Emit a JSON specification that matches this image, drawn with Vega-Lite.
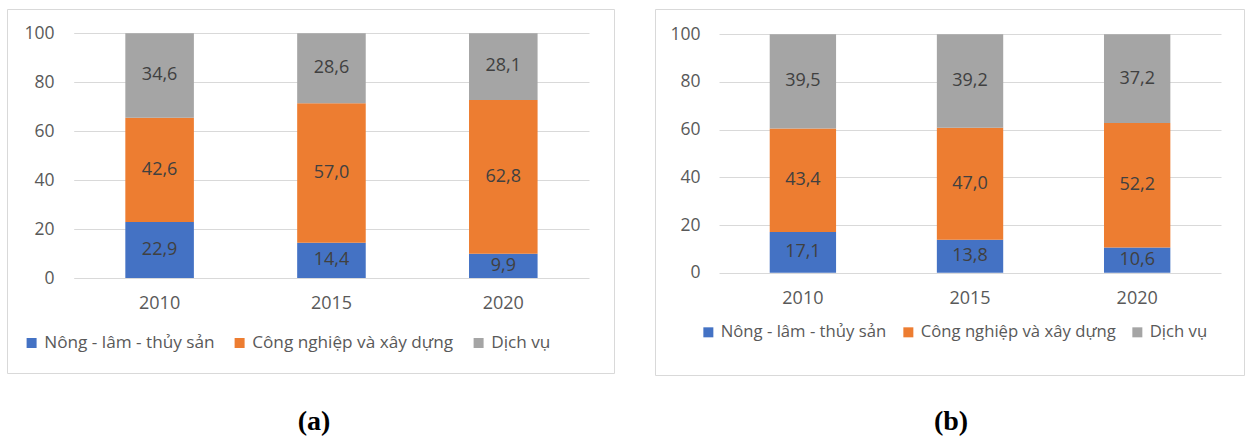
{
  "$schema": "https://vega.github.io/schema/vega-lite/v6.json",
  "background": "white",
  "padding": {"left": 6, "top": 8, "right": 0, "bottom": 0},
  "datasets": {
    "a": [
      {"year": "2010", "sector": "Nông - lâm - thủy sản", "rank": 1, "value": 22.9},
      {"year": "2010", "sector": "Công nghiệp và xây dựng", "rank": 2, "value": 42.6},
      {"year": "2010", "sector": "Dịch vụ", "rank": 3, "value": 34.6},
      {"year": "2015", "sector": "Nông - lâm - thủy sản", "rank": 1, "value": 14.4},
      {"year": "2015", "sector": "Công nghiệp và xây dựng", "rank": 2, "value": 57.0},
      {"year": "2015", "sector": "Dịch vụ", "rank": 3, "value": 28.6},
      {"year": "2020", "sector": "Nông - lâm - thủy sản", "rank": 1, "value": 9.9},
      {"year": "2020", "sector": "Công nghiệp và xây dựng", "rank": 2, "value": 62.8},
      {"year": "2020", "sector": "Dịch vụ", "rank": 3, "value": 28.1}
    ],
    "b": [
      {"year": "2010", "sector": "Nông - lâm - thủy sản", "rank": 1, "value": 17.1},
      {"year": "2010", "sector": "Công nghiệp và xây dựng", "rank": 2, "value": 43.4},
      {"year": "2010", "sector": "Dịch vụ", "rank": 3, "value": 39.5},
      {"year": "2015", "sector": "Nông - lâm - thủy sản", "rank": 1, "value": 13.8},
      {"year": "2015", "sector": "Công nghiệp và xây dựng", "rank": 2, "value": 47.0},
      {"year": "2015", "sector": "Dịch vụ", "rank": 3, "value": 39.2},
      {"year": "2020", "sector": "Nông - lâm - thủy sản", "rank": 1, "value": 10.6},
      {"year": "2020", "sector": "Công nghiệp và xây dựng", "rank": 2, "value": 52.2},
      {"year": "2020", "sector": "Dịch vụ", "rank": 3, "value": 37.2}
    ]
  },
  "spacing": 39,
  "resolve": {
    "scale": {"x": "independent", "y": "independent", "color": "independent"},
    "axis": {"x": "independent", "y": "independent"},
    "legend": {"color": "independent"}
  },
  "hconcat": [
    {
      "width": 607,
      "height": 364,
      "data": {"name": "a"},
      "title": {"text": "(a)", "orient": "bottom", "anchor": "middle", "offset": 35, "dx": 3.5, "font": "Liberation Serif", "fontSize": 28, "fontWeight": "bold", "color": "#000000"},
      "transform": [
        {"stack": "value", "groupby": ["year"], "sort": [{"field": "rank", "order": "ascending"}], "as": ["v0", "v1"]}
      ],
      "layer": [
        {
          "mark": {"type": "bar"},
          "encoding": {
            "x": {
              "field": "year", "type": "nominal", "sort": null,
              "scale": {"paddingInner": 0.601, "paddingOuter": 0.5666, "align": 0.6076},
              "axis": {"orient": "bottom", "offset": -80.1, "domain": false, "ticks": false, "tickSize": 0, "labelPadding": 2, "labelAngle": 0, "labelFont": "Open Sans", "labelFontSize": 18, "labelColor": "#595959", "title": null}
            },
            "y": {
              "field": "v1", "type": "quantitative", "title": null,
              "scale": {"domain": [0, 100], "range": [269, 24.3], "clamp": true, "nice": false, "zero": false},
              "axis": {"orient": "left", "offset": -582, "values": [0, 20, 40, 60, 80, 100], "domain": false, "grid": false, "ticks": true, "tickSize": 515.3, "tickColor": "#d9d9d9", "tickWidth": 1, "labelPadding": 19.7, "labelFont": "Open Sans", "labelFontSize": 17.5, "labelColor": "#595959", "title": null}
            },
            "y2": {"field": "v0"},
            "color": {
              "field": "sector", "type": "nominal",
              "scale": {"domain": ["Nông - lâm - thủy sản", "Công nghiệp và xây dựng", "Dịch vụ"], "range": ["#4472C4", "#ED7D31", "#A5A5A5"]},
              "legend": {"orient": "none", "legendX": 16, "legendY": 325.3, "direction": "horizontal", "columns": 3, "title": null, "symbolType": "square", "symbolSize": 100, "symbolStrokeWidth": 0, "labelFont": "Open Sans", "labelFontSize": 17.2, "labelColor": "#595959", "labelOffset": 4, "columnPadding": 16, "labelLimit": 400, "padding": 0}
            }
          }
        },
        {
          "transform": [{"fold": ["v0", "v1"], "as": ["edge", "pos"]}],
          "mark": {"type": "text", "font": "Open Sans", "fontSize": 18, "color": "#404040", "baseline": "middle", "align": "center"},
          "encoding": {
            "x": {"field": "year", "type": "nominal", "sort": null},
            "y": {"field": "pos", "type": "quantitative", "aggregate": "mean", "title": null},
            "detail": {"field": "sector", "type": "nominal"},
            "text": {"field": "value", "type": "quantitative", "aggregate": "max", "format": ".1f"}
          }
        }
      ]
    },
    {
      "width": 589,
      "height": 366,
      "data": {"name": "b"},
      "title": {"text": "(b)", "orient": "bottom", "anchor": "middle", "offset": 33, "dx": 1.5, "font": "Liberation Serif", "fontSize": 28, "fontWeight": "bold", "color": "#000000"},
      "transform": [
        {"stack": "value", "groupby": ["year"], "sort": [{"field": "rank", "order": "ascending"}], "as": ["v0", "v1"]}
      ],
      "layer": [
        {
          "mark": {"type": "bar"},
          "encoding": {
            "x": {
              "field": "year", "type": "nominal", "sort": null,
              "scale": {"paddingInner": 0.603, "paddingOuter": 0.5635, "align": 0.609},
              "axis": {"orient": "bottom", "offset": -87.1, "domain": false, "ticks": false, "tickSize": 0, "labelPadding": 2, "labelAngle": 0, "labelFont": "Open Sans", "labelFontSize": 18, "labelColor": "#595959", "title": null}
            },
            "y": {
              "field": "v1", "type": "quantitative", "title": null,
              "scale": {"domain": [0, 100], "range": [263.7, 25.3], "clamp": true, "nice": false, "zero": false},
              "axis": {"orient": "left", "offset": -566, "values": [0, 20, 40, 60, 80, 100], "domain": false, "grid": false, "ticks": true, "tickSize": 502, "tickColor": "#d9d9d9", "tickWidth": 1, "labelPadding": 19, "labelFont": "Open Sans", "labelFontSize": 17.5, "labelColor": "#595959", "title": null}
            },
            "y2": {"field": "v0"},
            "color": {
              "field": "sector", "type": "nominal",
              "scale": {"domain": ["Nông - lâm - thủy sản", "Công nghiệp và xây dựng", "Dịch vụ"], "range": ["#4472C4", "#ED7D31", "#A5A5A5"]},
              "legend": {"orient": "none", "legendX": 45, "legendY": 314.5, "direction": "horizontal", "columns": 3, "title": null, "symbolType": "square", "symbolSize": 100, "symbolStrokeWidth": 0, "labelFont": "Open Sans", "labelFontSize": 16.7, "labelColor": "#595959", "labelOffset": 4, "columnPadding": 13, "labelLimit": 400, "padding": 0}
            }
          }
        },
        {
          "transform": [{"fold": ["v0", "v1"], "as": ["edge", "pos"]}],
          "mark": {"type": "text", "font": "Open Sans", "fontSize": 18, "color": "#404040", "baseline": "middle", "align": "center"},
          "encoding": {
            "x": {"field": "year", "type": "nominal", "sort": null},
            "y": {"field": "pos", "type": "quantitative", "aggregate": "mean", "title": null},
            "detail": {"field": "sector", "type": "nominal"},
            "text": {"field": "value", "type": "quantitative", "aggregate": "max", "format": ".1f"}
          }
        }
      ]
    }
  ],
  "config": {
    "view": {"stroke": "#d9d9d9", "strokeWidth": 1},
    "locale": {"number": {"decimal": ",", "thousands": ".", "grouping": [3], "currency": ["", ""]}},
    "font": "Open Sans"
  }
}
